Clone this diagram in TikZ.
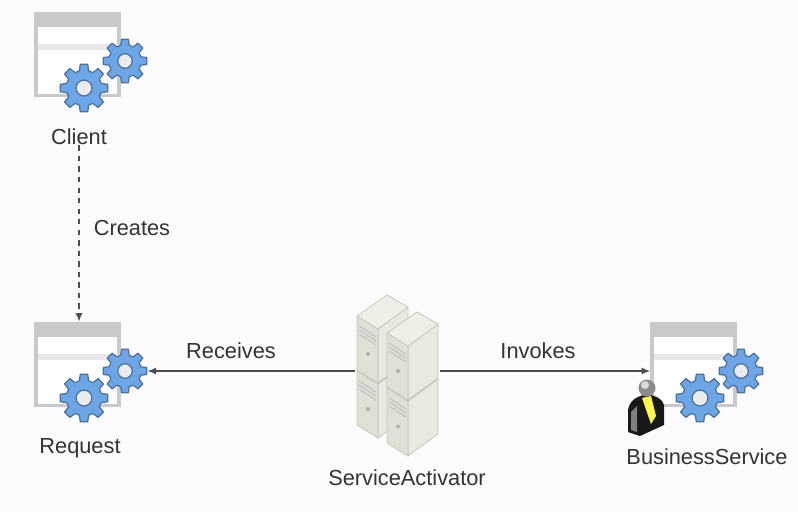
\documentclass[tikz,border=0pt]{standalone}
\usepackage{fontspec}
\setmainfont{Liberation Sans}
\usetikzlibrary{arrows.meta}
\definecolor{gearblue}{HTML}{6CA6E6}
\definecolor{gearedge}{HTML}{4C6F9C}
\definecolor{winbar}{HTML}{C9C9C9}
\definecolor{srvtop}{HTML}{EFEFE8}
\definecolor{srvleft}{HTML}{E0E0D6}
\definecolor{srvright}{HTML}{E9E9E2}
\definecolor{srvedge}{HTML}{C4C4BA}
\tikzset{
	lbl/.style={font=\fontsize{12.4}{14}\selectfont, text=black!80, inner sep=0pt},
	gearbody/.style={fill=gearblue, draw=gearedge, line width=0.7pt, line join=round},
	winbox/.style={draw=winbar, fill=white, line width=1.9pt, minimum width=1.66cm, minimum height=1.64cm, inner sep=0pt},
	conn/.style={draw=black!70, line width=0.9pt, -{Latex[length=5pt,width=4pt]}},
}
% gear at (x,y), outer radius
\def\gearat(#1,#2)(#3){
	\draw[gearbody, shift={(#1,#2)}] (-22.5:#3*0.74)
		\foreach \a in {0,45,...,315} {
			-- ({\a-15}:#3*0.74) -- ({\a-9}:#3) -- ({\a+9}:#3) -- ({\a+15}:#3*0.74)
		} -- cycle;
	\draw[draw=gearedge, fill=black!8, line width=0.7pt] (#1,#2) circle (#3*0.33);
}
% window with two gears
\def\appicon(#1)(#2,#3){
	\node[winbox] (#1win) at (#2+77.5,#3+54.5) {};
	\fill[winbar] (#2+35,#3+12) rectangle (#2+120,#3+27);
	\fill[black!9] (#2+38,#3+44) rectangle (#2+118,#3+50);
	\gearat(#2+125,#3+61)(22)
	\gearat(#2+84,#3+88)(24)
	\node[circle, minimum size=0.88cm, inner sep=0pt] (#1gear) at (#2+125,#3+61) {};
}
% one server box, front top corner at (x,y)
\def\srvbox(#1,#2)(#3){
	\begin{scope}[shift={(#1,#2)}, draw=srvedge, line width=0.4pt, line join=round]
		\draw[fill=srvright] (0,0) -- (30,-22) -- (30,#3-22) -- (0,#3) -- cycle;
		\draw[fill=srvleft] (0,0) -- (-21,-13) -- (-21,#3-13) -- (0,#3) -- cycle;
		\draw[fill=srvtop] (0,0) -- (-21,-13) -- (9,-34) -- (30,-22) -- cycle;
		\foreach \s in {6,10,14} {
			\draw[black!22, line width=0.8pt] (-19,\s-9) -- (-2,\s+2);
		}
		\fill[black!30] (-10,#3*0.5-2) circle (2);
	\end{scope}
}
\begin{document}
\begin{tikzpicture}[x=0.02cm, y=-0.02cm]
	%%%%% background %%%%%
	\useasboundingbox (0,0) rectangle (798,512);
	\fill[black!1] (0,0) rectangle (798,512);

	\appicon(client)(0,0)
	\appicon(request)(0,310)
	\appicon(business)(616,310)

	%%%%% servers %%%%%
	\srvbox(378,384)(54)
	\srvbox(378,329)(54)
	\srvbox(408,401)(55)
	\srvbox(408,346)(54)
	\node[minimum width=1.7cm, minimum height=1.5cm, inner sep=0pt] (activator) at (397.5,371) {};

	%%%%% person %%%%%
	\fill[black!90] (628,432) -- (628,410) .. controls (630,398) and (640,396) .. (647,394)
		.. controls (655,396) and (663,398) .. (664,406) -- (664,425) -- (640,436) -- cycle;
	\fill[black!50] (631,430) -- (631,412) -- (637,406) -- (637,432) -- cycle;
	\fill[yellow!70!white] (642,398) -- (651,396) -- (656,416) -- (651,424) -- cycle;
	\fill[black!45] (647,388) circle (8.5);
	\fill[black!15] (645,385) circle (4);

	%%%%% labels %%%%%
	\node[lbl] (client) at (79,137) {Client};
	\node[lbl] (creates) at (132,228) {Creates};
	\node[lbl] (request) at (80,448) {Request};
	\node[lbl] (receives) at (231,351) {Receives};
	\node[lbl] (invokes) at (538,351) {Invokes};
	\node[lbl] (service) at (407,478) {ServiceActivator};
	\node[lbl] (bservice) at (707,457) {BusinessService};

	%%%%% connectors %%%%%
	\draw[conn, dashed] (client.south) -- (client.south |- requestwin.north);
	\draw[conn] (activator.west) -- (activator.west -| requestgear.east);
	\draw[conn] (activator.east) -- (activator.east -| businesswin.west);
\end{tikzpicture}
\end{document}
